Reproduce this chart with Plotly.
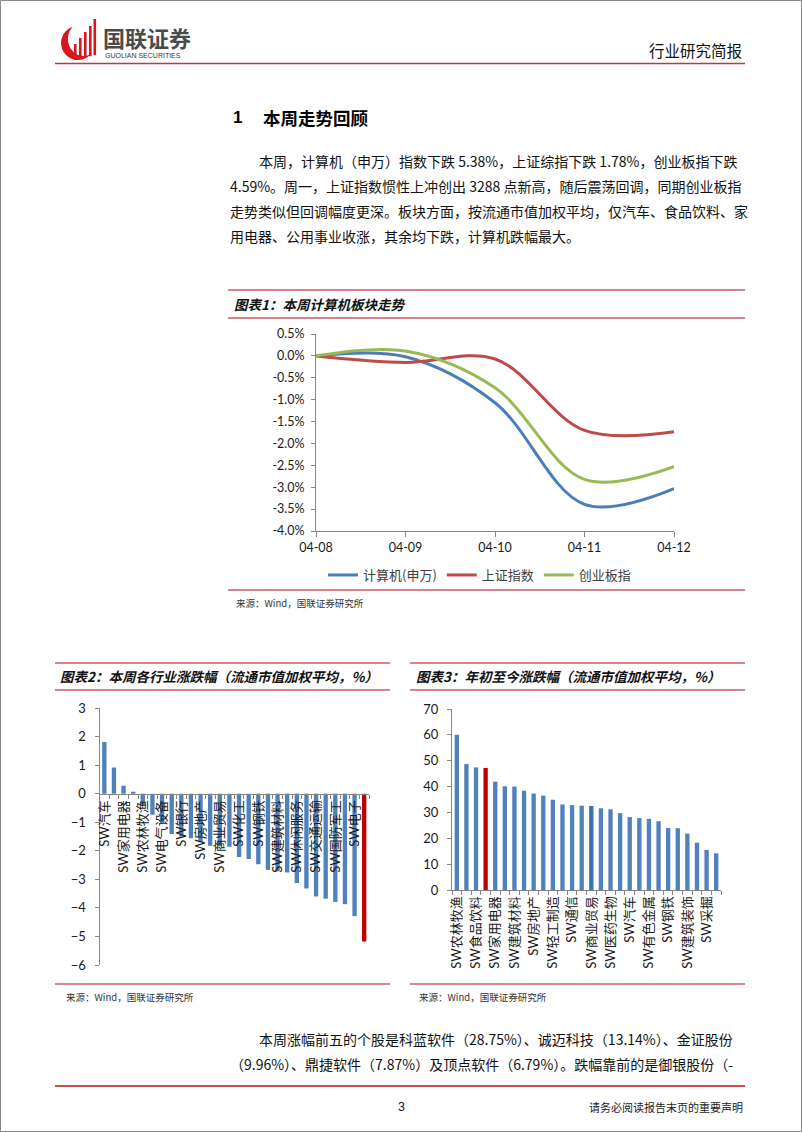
import plotly.graph_objects as go

W, H = 802, 1133
def X(px): return px / W
def Y(py): return 1 - py / H

CJK = "Noto Sans CJK SC"
NUM = "Lato, Noto Sans CJK SC"

# ---------------- Chart 1 data ----------------
dates = ["04-08", "04-09", "04-10", "04-11", "04-12"]
computer = [0.0, -0.02, -1.07, -3.39, -3.03]
sse = [0.0, -0.15, -0.07, -1.70, -1.73]
chinext = [0.0, 0.11, -0.73, -2.82, -2.53]
c1_ticks = [0.5, 0.0, -0.5, -1.0, -1.5, -2.0, -2.5, -3.0, -3.5, -4.0]
c1_ticktext = ["0.5%", "0.0%", "-0.5%", "-1.0%", "-1.5%", "-2.0%", "-2.5%", "-3.0%", "-3.5%", "-4.0%"]

# ---------------- Chart 2 data (weekly) ----------------
wk_ind = ["汽车", "食品饮料", "家用电器", "公用事业", "农林牧渔", "非银金融", "电气设备",
          "采掘", "银行", "医药生物", "房地产", "纺织服装", "商业贸易", "建筑装饰",
          "化工", "轻工制造", "钢铁", "有色金属", "建筑材料", "综合", "休闲服务",
          "机械设备", "交通运输", "通信", "国防军工", "传媒", "电子", "计算机"]
wk_chg = [1.81, 0.92, 0.28, 0.07, -0.39, -0.74, -1.04, -1.41, -1.50, -1.56, -1.70,
          -1.82, -1.84, -1.86, -2.22, -2.29, -2.47, -2.67, -2.72, -2.76, -3.13, -3.32,
          -3.60, -3.68, -3.79, -3.87, -4.29, -5.18]
c2_ticks = [3, 2, 1, 0, -1, -2, -3, -4, -5, -6]

# ---------------- Chart 3 data (YTD) ----------------
ytd_ind = ["农林牧渔", "传媒", "食品饮料", "计算机", "家用电器", "电子", "建筑材料",
           "机械设备", "房地产", "电气设备", "轻工制造", "休闲服务", "通信", "纺织服装",
           "商业贸易", "化工", "医药生物", "国防军工", "汽车", "公用事业", "有色金属",
           "交通运输", "钢铁", "综合", "建筑装饰", "非银金融", "采掘", "银行"]
ytd_chg = [60.0, 48.7, 47.4, 47.2, 41.9, 40.1, 40.0, 38.4, 37.3, 36.5, 34.9, 33.1,
           32.8, 32.6, 32.5, 31.6, 31.2, 29.7, 28.2, 27.8, 27.5, 26.6, 24.0, 23.9,
           21.8, 18.3, 15.5, 14.2]
c3_ticks = [0, 10, 20, 30, 40, 50, 60, 70]

BLUE_BAR = "#4F81BD"
RED_BAR = "#C00000"
AX = "#868686"

fig = go.Figure()

# Chart 1 lines
fig.add_trace(go.Scatter(x=list(range(len(dates))), y=computer, name="计算机(申万)", mode="lines",
                         line=dict(color="#4A7EBB", width=3, shape="spline", smoothing=1.0),
                         xaxis="x", yaxis="y"))
fig.add_trace(go.Scatter(x=list(range(len(dates))), y=sse, name="上证指数", mode="lines",
                         line=dict(color="#BE4B48", width=3, shape="spline", smoothing=1.0),
                         xaxis="x", yaxis="y"))
fig.add_trace(go.Scatter(x=list(range(len(dates))), y=chinext, name="创业板指", mode="lines",
                         line=dict(color="#98B954", width=3, shape="spline", smoothing=1.0),
                         xaxis="x", yaxis="y"))

# Chart 2 bars
wk_x = ["SW" + s for s in wk_ind]
wk_colors = [RED_BAR if s == "计算机" else BLUE_BAR for s in wk_ind]
fig.add_trace(go.Bar(x=wk_x, y=wk_chg, marker=dict(color=wk_colors, line=dict(width=0)),
                     showlegend=False, xaxis="x2", yaxis="y2"))

# Chart 3 bars
ytd_x = ["SW" + s for s in ytd_ind]
ytd_colors = []
for s in ytd_ind:
    if s == "计算机":
        ytd_colors.append(RED_BAR)
    elif s == "商业贸易":
        ytd_colors.append("#3F72B5")
    else:
        ytd_colors.append(BLUE_BAR)
fig.add_trace(go.Bar(x=ytd_x, y=ytd_chg, marker=dict(color=ytd_colors, line=dict(width=0)),
                     showlegend=False, xaxis="x3", yaxis="y3"))

wk_text = [("SW" + s) if i % 2 == 0 and s != "计算机" else "" for i, s in enumerate(wk_ind)]
ytd_text = [("SW" + s) if i % 2 == 0 else "" for i, s in enumerate(ytd_ind)]

tickfont_cat = dict(family=NUM, size=13, color="#1a1a1a")

fig.update_layout(
    template="none",
    width=W, height=H,
    margin=dict(l=0, r=0, t=0, b=0, pad=0, autoexpand=False),
    paper_bgcolor="white", plot_bgcolor="rgba(0,0,0,0)",
    bargap=0.55,
    showlegend=True,
    legend=dict(orientation="h", x=X(323), y=Y(575), xanchor="left", yanchor="middle",
                font=dict(family=CJK, size=13, color="#404040"), bgcolor="rgba(0,0,0,0)",
                itemwidth=30, tracegroupgap=0, borderwidth=0),
    xaxis=dict(domain=[X(316), X(674)], range=[0, 4], tickmode="array",
               tickvals=list(range(len(dates))), ticktext=dates, showline=True, linecolor=AX,
               linewidth=1, ticks="outside", ticklen=5, tickcolor=AX, showgrid=False,
               zeroline=False, tickfont=dict(family=NUM, size=12.5, color="#1a1a1a"),
               anchor="y", automargin=False),
    yaxis=dict(domain=[Y(531), Y(334)], range=[-4.0, 0.5], tickmode="array",
               tickvals=c1_ticks, ticktext=c1_ticktext, showline=True, linecolor=AX,
               linewidth=1, ticks="outside", ticklen=4, tickcolor=AX, showgrid=False,
               zeroline=False, tickfont=dict(family=NUM, size=12.5, color="#1a1a1a"),
               anchor="x", ticklabelstandoff=4, automargin=False),
    xaxis2=dict(domain=[X(99.5), X(369)], type="category", tickmode="array",
                tickvals=wk_x, ticktext=wk_text, tickangle=-90, anchor="free",
                position=Y(794), showline=True, linecolor=AX, linewidth=1,
                ticks="outside", ticklen=4, tickcolor=AX, tickson="boundaries",
                showgrid=False, zeroline=False, tickfont=tickfont_cat, automargin=False),
    yaxis2=dict(domain=[Y(965), Y(708)], range=[-6, 3], tickmode="array",
                tickvals=c2_ticks, showline=True, linecolor=AX, linewidth=1,
                ticks="outside", ticklen=4, tickcolor=AX, showgrid=False, zeroline=False,
                tickfont=dict(family=NUM, size=13, color="#1a1a1a"), anchor="x2",
                ticklabelstandoff=6, automargin=False),
    xaxis3=dict(domain=[X(452), X(721)], type="category", tickmode="array",
                tickvals=ytd_x, ticktext=ytd_text, tickangle=-90, anchor="y3",
                showline=True, linecolor=AX, linewidth=1, ticks="outside", ticklen=4,
                tickcolor=AX, tickson="boundaries", showgrid=False, zeroline=False,
                tickfont=tickfont_cat, automargin=False),
    yaxis3=dict(domain=[Y(890), Y(709)], range=[0, 70], tickmode="array",
                tickvals=c3_ticks, showline=True, linecolor=AX, linewidth=1,
                ticks="outside", ticklen=4, tickcolor=AX, showgrid=False, zeroline=False,
                tickfont=dict(family=NUM, size=13, color="#1a1a1a"), anchor="x3",
                ticklabelstandoff=6, automargin=False),
)

shapes = []
def hline(x0, x1, y, color, width=1.5):
    shapes.append(dict(type="line", xref="paper", yref="paper", x0=X(x0), x1=X(x1),
                       y0=Y(y), y1=Y(y), line=dict(color=color, width=width)))

FRAME = "#CF5868"
# page border
shapes.append(dict(type="rect", xref="paper", yref="paper", x0=X(0.5), x1=X(801.5),
                   y0=Y(0.5), y1=Y(1131.5), line=dict(color="#8a8a8a", width=1)))
# header / footer lines
hline(55, 745, 63.5, "#B83A3F", 1.6)
hline(55, 745, 1086, "#C0141E", 1.6)
# chart 1 frame
hline(228, 745, 290, FRAME)
hline(228, 745, 318, FRAME)
hline(228, 745, 590, FRAME)
# chart 2 frame
hline(55, 390, 663, FRAME)
hline(55, 390, 690, FRAME)
hline(55, 390, 984, FRAME)
# chart 3 frame
hline(410, 745, 663, FRAME)
hline(410, 745, 690, FRAME)
hline(410, 745, 984, FRAME)

# logo
shapes.append(dict(type="circle", xref="paper", yref="paper", x0=X(61), x1=X(95),
                   y0=Y(60), y1=Y(26), fillcolor="#D7161E", line=dict(width=0)))
shapes.append(dict(type="circle", xref="paper", yref="paper", x0=X(68), x1=X(99),
                   y0=Y(56), y1=Y(22), fillcolor="white", line=dict(width=0)))
for bx, top in [(74, 44), (79, 38), (84, 32), (89, 26), (93.5, 19)]:
    shapes.append(dict(type="rect", xref="paper", yref="paper", x0=X(bx), x1=X(bx + 2.6),
                       y0=Y(60 - (bx - 74) * 0.25), y1=Y(top), fillcolor="#D7161E",
                       line=dict(width=0)))

fig.update_layout(shapes=shapes)

ann = []
def txt(x, y, s, size, color="#000", family=CJK, xanchor="left", yanchor="middle"):
    ann.append(dict(x=X(x), y=Y(y), xref="paper", yref="paper", text=s, showarrow=False,
                    xanchor=xanchor, yanchor=yanchor,
                    font=dict(family=family, size=size, color=color)))

# header
txt(101, 36.5, "<b>国联证券</b>", 22, "#4a4a4a")
txt(103, 56, "GUOLIAN SECURITIES", 7, "#3a3a3a", family="Liberation Sans")
txt(744, 50, "行业研究简报", 15.5, "#111", xanchor="right")

# section title
txt(231, 118, "<b>1</b>", 17, "#000", family="Liberation Sans")
txt(261, 118, "<b>本周走势回顾</b>", 17.5, "#000")

# paragraph
para = [
    (257, 161, "本周，计算机（申万）指数下跌 5.38%，上证综指下跌 1.78%，创业板指下跌"),
    (228, 186, "4.59%。周一，上证指数惯性上冲创出 3288 点新高，随后震荡回调，同期创业板指"),
    (228, 211, "走势类似但回调幅度更深。板块方面，按流通市值加权平均，仅汽车、食品饮料、家"),
    (228, 236, "用电器、公用事业收涨，其余均下跌，计算机跌幅最大。"),
]
for x, y, s in para:
    txt(x, y, s, 14, "#111")

# chart titles
txt(232, 304, "<b><i>图表1：本周计算机板块走势</i></b>", 13.5, "#111")
txt(58, 676, "<b><i>图表2：本周各行业涨跌幅（流通市值加权平均，%）</i></b>", 13.5, "#111")
txt(414, 676, "<b><i>图表3：年初至今涨跌幅（流通市值加权平均，%）</i></b>", 13.5, "#111")

# sources
txt(234, 603, "来源：Wind，国联证券研究所", 9.5, "#333")
txt(64, 997, "来源：Wind，国联证券研究所", 9.5, "#333")
txt(417, 997, "来源：Wind，国联证券研究所", 9.5, "#333")

# bottom paragraph
txt(257, 1039, "本周涨幅前五的个股是科蓝软件（28.75%）、诚迈科技（13.14%）、金证股份", 14, "#111")
txt(228, 1064, "（9.96%）、鼎捷软件（7.87%）及顶点软件（6.79%）。跌幅靠前的是御银股份（-", 14, "#111")

# footer
txt(401, 1107, "3", 12.5, "#222", family="Liberation Sans", xanchor="center")
txt(745, 1107, "请务必阅读报告末页的重要声明", 11, "#222", xanchor="right")

fig.update_layout(annotations=ann)

fig.write_html("out.html", config={"displayModeBar": False},
               post_script="document.body.style.margin='0px';")
